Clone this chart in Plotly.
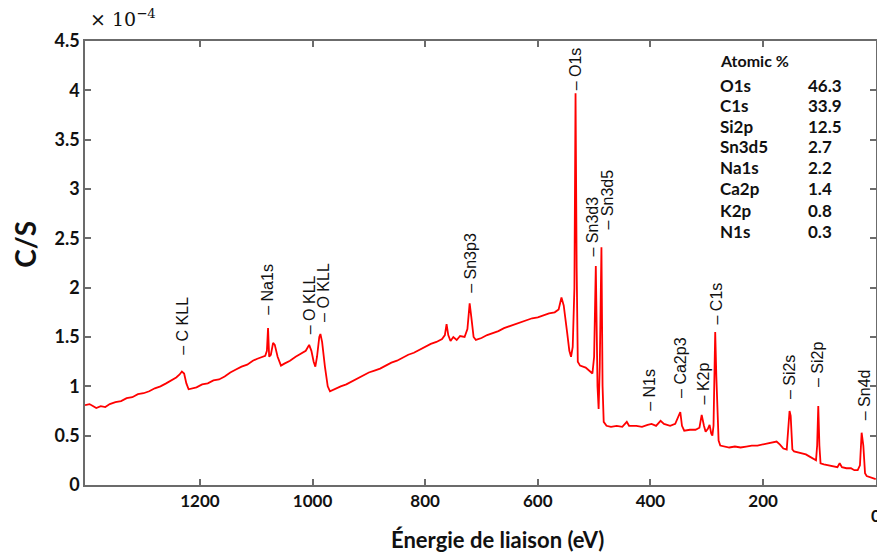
import plotly.graph_objects as go

# ---------------- data ----------------
energy_ev = [1404, 1396, 1390, 1384, 1376, 1368, 1360, 1350, 1340, 1330, 1320, 1310, 1300, 1290,
             1280, 1270, 1260, 1250, 1242, 1236, 1232, 1228, 1224, 1220, 1214, 1206, 1196, 1186,
             1176, 1166, 1156, 1146, 1136, 1126, 1116, 1106, 1098, 1090, 1084, 1081, 1079, 1077,
             1074, 1070, 1067, 1062, 1056, 1050, 1040, 1030, 1020, 1012, 1006, 1002, 998, 995,
             992, 988, 986, 983, 978, 973, 969, 962, 950, 940, 930, 920, 910, 900, 890, 880, 870,
             860, 850, 840, 830, 820, 810, 800, 790, 780, 770, 765, 762, 759, 755, 750, 744, 738,
             730, 725, 721, 718, 714, 710, 700, 690, 680, 670, 660, 650, 640, 630, 620, 610, 600,
             590, 580, 570, 563, 558, 554, 548, 544, 541, 538, 535, 533, 531, 529, 525, 515, 507,
             503, 500, 497, 494, 492, 490, 487, 485, 483, 478, 470, 460, 450, 442, 438, 425, 415,
             405, 398, 390, 382, 376, 365, 356, 350, 347, 344, 340, 330, 320, 313, 309, 305, 302,
             298, 295, 292, 290, 288, 286, 285, 283, 281, 279, 276, 270, 260, 250, 240, 230, 220,
             210, 200, 190, 182, 176, 170, 164, 158, 155, 153, 151, 148, 145, 138, 130, 124, 118,
             112, 106, 104, 102, 100, 98, 92, 84, 76, 68, 64, 60, 52, 44, 38, 32, 28, 25, 22, 19,
             16, 10, 5, 0]
counts = [0.81, 0.82, 0.80, 0.78, 0.80, 0.79, 0.82, 0.84, 0.85, 0.88, 0.89, 0.92, 0.93, 0.95,
          0.98, 1.00, 1.03, 1.06, 1.09, 1.12, 1.15, 1.13, 1.03, 0.97, 0.98, 0.99, 1.02, 1.03,
          1.06, 1.07, 1.10, 1.14, 1.17, 1.20, 1.22, 1.26, 1.28, 1.30, 1.31, 1.36, 1.59, 1.30,
          1.32, 1.44, 1.42, 1.30, 1.21, 1.23, 1.26, 1.30, 1.33, 1.36, 1.42, 1.36, 1.25, 1.20,
          1.30, 1.50, 1.53, 1.45, 1.20, 1.00, 0.95, 0.97, 1.00, 1.02, 1.05, 1.08, 1.11, 1.14,
          1.16, 1.18, 1.21, 1.24, 1.26, 1.29, 1.32, 1.34, 1.37, 1.40, 1.43, 1.45, 1.48, 1.52,
          1.63, 1.52, 1.46, 1.50, 1.47, 1.51, 1.50, 1.58, 1.84, 1.70, 1.50, 1.47, 1.49, 1.52,
          1.54, 1.56, 1.59, 1.61, 1.63, 1.65, 1.67, 1.69, 1.70, 1.72, 1.74, 1.75, 1.78, 1.90,
          1.82, 1.55, 1.36, 1.30, 1.40, 2.00, 3.97, 2.20, 1.25, 1.21, 1.19, 1.15, 1.13, 1.30,
          2.22, 1.00, 0.77, 1.20, 2.41, 1.00, 0.64, 0.60, 0.59, 0.60, 0.59, 0.64, 0.60, 0.60,
          0.59, 0.61, 0.62, 0.60, 0.65, 0.62, 0.60, 0.62, 0.70, 0.74, 0.60, 0.55, 0.56, 0.56,
          0.58, 0.71, 0.60, 0.54, 0.57, 0.61, 0.52, 0.50, 0.60, 1.20, 1.55, 1.10, 0.70, 0.45,
          0.40, 0.39, 0.38, 0.39, 0.38, 0.39, 0.40, 0.40, 0.41, 0.42, 0.43, 0.44, 0.41, 0.37,
          0.36, 0.55, 0.75, 0.70, 0.36, 0.34, 0.33, 0.32, 0.31, 0.29, 0.27, 0.25, 0.40, 0.80,
          0.40, 0.22, 0.21, 0.20, 0.19, 0.18, 0.22, 0.18, 0.17, 0.17, 0.15, 0.15, 0.20, 0.53,
          0.40, 0.12, 0.09, 0.08, 0.07, 0.06]

peak_names = ["C KLL", "Na1s", "O KLL", "O KLL", "Sn3p3", "O1s", "Sn3d3", "Sn3d5",
              "N1s", "Ca2p3", "K2p", "C1s", "Si2s", "Si2p", "Sn4d"]
peak_ev = [1230, 1079, 1005, 981, 720, 533, 503, 477, 401, 347, 306, 283, 154, 102, 21]
peak_label_base = [1.30, 1.70, 1.51, 1.63, 1.93, 3.98, 2.30, 2.57, 0.73, 0.86, 0.80, 1.61,
                   0.85, 0.97, 0.64]

atomic_elements = ["O1s", "C1s", "Si2p", "Sn3d5", "Na1s", "Ca2p", "K2p", "N1s"]
atomic_percent = ["46.3", "33.9", "12.5", "2.7", "2.2", "1.4", "0.8", "0.3"]

y_tick_vals = [0, 0.5, 1, 1.5, 2, 2.5, 3, 3.5, 4, 4.5]
y_tick_text = ["0", "0.5", "1", "1.5", "2", "2.5", "3", "3.5", "4", "4.5"]
x_tick_vals = [1200, 1000, 800, 600, 400, 200, 0]

# ---------------- layout geometry ----------------
W, H = 877, 554
L, R, T, B = 85, 876, 41, 485.5


def px_x(px):
    return (px - L) / (R - L)


def px_y(py):
    return (B - py) / (B - T)


tick_font = dict(family="Lato", size=17, color="#111111", weight="bold")

fig = go.Figure()
fig.add_trace(go.Scatter(x=energy_ev, y=counts, mode="lines",
                         line=dict(color="#ff0000", width=1.8), hoverinfo="skip"))

axis_common = dict(showline=True, linecolor="#6b6b6b", linewidth=1.5, mirror="ticks",
                   ticks="inside", ticklen=6, tickwidth=1.5, tickcolor="#6b6b6b",
                   showgrid=False, zeroline=False, automargin=False)

fig.update_xaxes(range=[1404, -0.5], tickvals=x_tick_vals, tickfont=tick_font, **axis_common)
fig.update_yaxes(range=[0, 4.5], tickvals=y_tick_vals, ticktext=y_tick_text,
                 tickfont=dict(family="Lato", size=18, color="#111111", weight="bold"),
                 **axis_common)

annotations = []
# peak labels
for name, ev, yb in zip(peak_names, peak_ev, peak_label_base):
    annotations.append(dict(x=ev, y=yb, xref="x", yref="y", text="– " + name,
                            showarrow=False, textangle=-90, xanchor="center", yanchor="bottom",
                            font=dict(family="Liberation Sans, Arial", size=16, color="#111111")))

# the "0" tick label at the right edge (plotly hides it when it overflows)
annotations.append(dict(x=0, y=px_y(516), xref="x", yref="paper", text="0", showarrow=False,
                        xanchor="center", yanchor="middle", font=tick_font))

# table
annotations.append(dict(x=px_x(718), y=px_y(61), xref="paper", yref="paper", text="Atomic %",
                        showarrow=False, xanchor="left", yanchor="middle",
                        font=dict(family="Lato", size=16, color="#111111", weight="bold")))
row_y = [86, 106, 127, 147, 168, 189, 211, 232]
for el, pc, ry in zip(atomic_elements, atomic_percent, row_y):
    annotations.append(dict(x=px_x(718), y=px_y(ry), xref="paper", yref="paper", text=el,
                            showarrow=False, xanchor="left", yanchor="middle",
                            font=dict(family="Lato", size=17, color="#111111", weight="bold")))
    annotations.append(dict(x=px_x(806), y=px_y(ry), xref="paper", yref="paper", text=pc,
                            showarrow=False, xanchor="left", yanchor="middle",
                            font=dict(family="Lato", size=17, color="#111111", weight="bold")))

# axis titles and exponent
annotations.append(dict(x=px_x(497), y=px_y(540), xref="paper", yref="paper",
                        text="Énergie de liaison (eV)", showarrow=False,
                        xanchor="center", yanchor="middle",
                        font=dict(family="Lato", size=22, color="#111111", weight="bold")))
annotations.append(dict(x=px_x(25), y=px_y(245), xref="paper", yref="paper",
                        text="C/S", showarrow=False, textangle=-90,
                        xanchor="center", yanchor="middle",
                        font=dict(family="Lato", size=28, color="#111111", weight="bold")))
annotations.append(dict(x=px_x(88), y=px_y(18), xref="paper", yref="paper",
                        text="× 10<sup>−4</sup>", showarrow=False,
                        xanchor="left", yanchor="middle",
                        font=dict(family="DejaVu Serif", size=19, color="#111111")))

fig.update_layout(width=W, height=H, margin=dict(l=L, r=W - R, t=T, b=H - B),
                  paper_bgcolor="white", plot_bgcolor="white", showlegend=False,
                  annotations=annotations)

fig.write_html("out.html", config={"displayModeBar": False},
               post_script="document.body.style.margin='0';document.body.style.overflow='hidden';")
